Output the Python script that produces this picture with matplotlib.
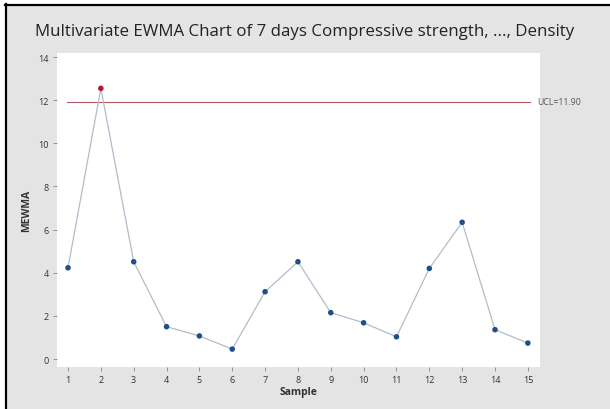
import matplotlib.pyplot as plt
from matplotlib.patches import Rectangle
from matplotlib.lines import Line2D

samples = list(range(1, 16))
mewma = [4.23, 12.55, 4.51, 1.50, 1.07, 0.46, 3.12, 4.51, 2.15, 1.68, 1.03, 4.20, 6.34, 1.36, 0.74]
ucl = 11.93
ucl_label = "UCL=11.90"
yticks = [0, 2, 4, 6, 8, 10, 12, 14]

plt.rcParams['font.family'] = ['Open Sans', 'DejaVu Sans']

W, H = 610, 410
fig = plt.figure(figsize=(W / 100, H / 100), dpi=100, facecolor='white')

# gray panel with black frame on top/left (screenshot look)
fig.patches.append(Rectangle((6 / W, 0), 1 - 6 / W, 1 - 6 / H, transform=fig.transFigure,
                             facecolor='#e4e4e4', edgecolor='none', zorder=-10))
fig.lines.append(Line2D([6 / W, 6 / W], [0, 1 - 5 / H], transform=fig.transFigure,
                        color='black', lw=1.6, zorder=-5))
fig.lines.append(Line2D([5 / W, 1], [1 - 5.5 / H, 1 - 5.5 / H], transform=fig.transFigure,
                        color='black', lw=1.6, zorder=-5))

ax = fig.add_axes([57 / W, 1 - 368 / H, (540 - 57) / W, (368 - 54) / H])
ax.set_zorder(1)
ax.set_facecolor('white')
for s in ax.spines.values():
    s.set_visible(False)

ax.plot(samples, mewma, color='#b3bccb', lw=0.9, zorder=2)
colors = ['#b0182e' if v > ucl else '#1f4f8a' for v in mewma]
ax.scatter(samples, mewma, c=colors, s=16, zorder=3, edgecolors='none')

ax.axhline(ucl, xmin=0.02, xmax=0.98, color='#b35a66', lw=0.8, zorder=1)
ax.set_xlim(0.665, 15.37)
ax.set_ylim(-0.37, 14.19)
ax.text(0.995, ucl, ucl_label, transform=ax.get_yaxis_transform(), fontsize=6.3,
        color='#555555', va='center', ha='left')

ax.set_xticks(samples)
ax.set_yticks(yticks)
ax.tick_params(axis='both', length=3, width=0.6, color='#888888', labelsize=6.5, labelcolor='#333333', pad=3)

ax.set_xlabel('Sample', fontsize=7.5, fontweight='bold', color='#333333', labelpad=1)
ax.set_ylabel('MEWMA', fontsize=7.5, fontweight='bold', color='#333333', labelpad=4)

fig.text(0.50, 1 - 32 / H, 'Multivariate EWMA Chart of 7 days Compressive strength, ..., Density',
         ha='center', va='center', fontsize=12.2, color='#222222')

fig.savefig('out.png', dpi=100, facecolor=fig.get_facecolor())
